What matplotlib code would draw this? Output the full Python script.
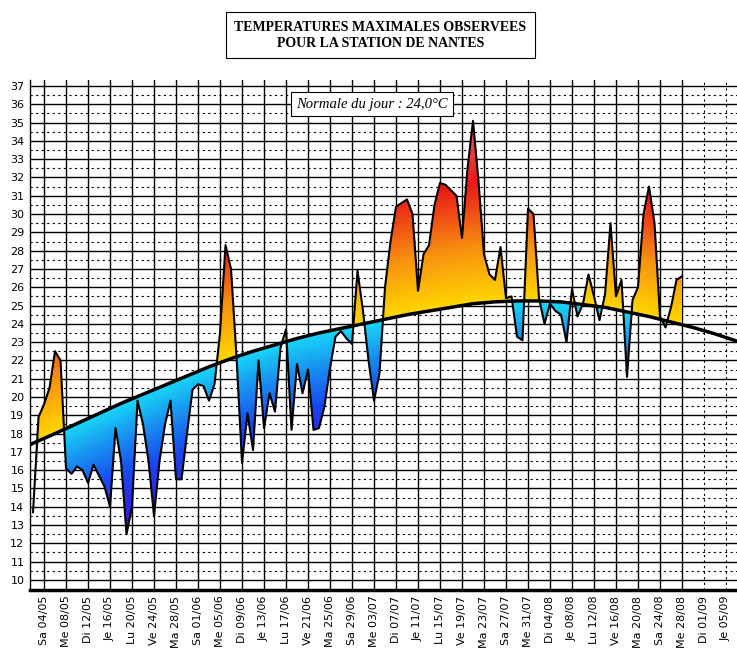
import numpy as np
import matplotlib
matplotlib.use("Agg")
import matplotlib.pyplot as plt
from matplotlib.path import Path
from matplotlib.colors import LinearSegmentedColormap, TwoSlopeNorm

# day index 0 = Sa 04/05
first_day = -2
temps = [13.7, 18.9, 19.6, 20.5, 22.5, 22.0, 16.1, 15.8, 16.2, 16.0, 15.3, 16.3, 15.7, 15.1,
         14.0, 18.3, 16.5, 12.5, 14.0, 19.8, 18.5, 16.5, 13.5, 16.5, 18.5, 19.8, 15.5, 15.5,
         18.0, 20.4, 20.7, 20.6, 19.8, 20.7, 23.5, 28.3, 27.0, 22.2, 16.4, 19.1, 17.1, 22.0,
         18.3, 20.2, 19.2, 22.7, 23.7, 18.2, 21.8, 20.2, 21.5, 18.2, 18.3, 19.5, 21.6, 23.3,
         23.6, 23.2, 22.9, 26.9, 24.7, 22.0, 19.8, 21.3, 26.0, 28.5, 30.4, 30.6, 30.8, 30.0,
         25.8, 27.8, 28.3, 30.5, 31.7, 31.6, 31.3, 31.0, 28.7, 32.5, 35.1, 31.8, 27.8, 26.7,
         26.4, 28.2, 25.4, 25.5, 23.3, 23.1, 30.3, 30.0, 25.4, 24.0, 25.1, 24.7, 24.5, 23.0,
         25.9, 24.4, 25.1, 26.7, 25.5, 24.2, 25.6, 29.5, 25.5, 26.4, 21.1, 25.3, 26.0, 30.0,
         31.5, 29.5, 24.4, 23.8, 24.9, 26.4, 26.6]
normal_days = [-2.55, 2, 6, 10, 14, 18, 22, 26, 30, 34, 38, 42, 46, 50, 54, 58, 62, 66, 70,
               74, 78, 82, 86, 90, 94, 98, 102, 106, 110, 114, 118, 122, 126]
normal_vals = [17.4, 18.0, 18.55, 19.1, 19.65, 20.15, 20.65, 21.15, 21.65, 22.1, 22.5, 22.85,
               23.2, 23.5, 23.75, 24.0, 24.25, 24.5, 24.7, 24.9, 25.1, 25.2, 25.25, 25.25,
               25.2, 25.05, 24.9, 24.65, 24.4, 24.1, 23.8, 23.45, 23.05]
tick_labels = ["Sa 04/05", "Me 08/05", "Di 12/05", "Je 16/05", "Lu 20/05", "Ve 24/05",
               "Ma 28/05", "Sa 01/06", "Me 05/06", "Di 09/06", "Je 13/06", "Lu 17/06",
               "Ve 21/06", "Ma 25/06", "Sa 29/06", "Me 03/07", "Di 07/07", "Je 11/07",
               "Lu 15/07", "Ve 19/07", "Ma 23/07", "Sa 27/07", "Me 31/07", "Di 04/08",
               "Je 08/08", "Lu 12/08", "Ve 16/08", "Ma 20/08", "Sa 24/08", "Me 28/08",
               "Di 01/09", "Je 05/09"]
title = "TEMPERATURES MAXIMALES OBSERVEES\nPOUR LA STATION DE NANTES"
note = "Normale du jour : 24,0°C"

x = np.arange(first_day, first_day + len(temps))
t = np.array(temps, float)
nx = np.interp(x, normal_days, normal_vals)

fig = plt.figure(figsize=(7.37, 6.63), dpi=100)
ax = fig.add_axes([30/737, (663-590)/663, 707/737, (590-79.6)/663])
xmin, xmax, ymin, ymax = -2.55, 126, 9.45, 37.35
ax.set_xlim(xmin, xmax)
ax.set_ylim(ymin, ymax)

# grid
ticks = np.arange(len(tick_labels)) * 4
for d in ticks:
    ax.axvline(d, color="black", lw=1.0 if d <= 116 else 0.8,
               ls="-" if d <= 116 else (0, (2, 3)), zorder=1)
for v in range(10, 38):
    ax.axhline(v, color="black", lw=1.0, zorder=1)
    ax.axhline(v + 0.5, color="black", lw=0.8, ls=(0, (2, 3)), zorder=1)

# gradient fill by deviation from normal
cmap = LinearSegmentedColormap.from_list("dev", [
    (0.0, "#6a08c8"), (0.12, "#3020e0"), (0.25, "#1848f0"), (0.38, "#1890f0"),
    (0.5, "#18d8f8"), (0.5, "#ffd800"), (0.64, "#f89010"), (0.8, "#e81818"),
    (1.0, "#f07878")])
norm = TwoSlopeNorm(vmin=-8, vcenter=0, vmax=11)
gx = np.linspace(xmin, xmax, 600)
gy = np.linspace(ymin, ymax, 500)
GX, GY = np.meshgrid(gx, gy)
dev = GY - np.interp(GX, normal_days, normal_vals)
im = ax.imshow(dev, extent=[xmin, xmax, ymin, ymax], origin="lower", aspect="auto",
               cmap=cmap, norm=norm, zorder=2, interpolation="bilinear")
verts = np.vstack([np.column_stack([x, t]), np.column_stack([x[::-1], nx[::-1]])])
im.set_clip_path(Path(verts, closed=True), transform=ax.transData)

ax.plot(x, t, color="black", lw=1.5, zorder=3)
ax.plot(normal_days, normal_vals, color="black", lw=2.5, zorder=4)

ax.set_yticks(range(10, 38))
ax.set_yticklabels([str(v) for v in range(10, 38)], fontsize=8)
ax.set_xticks(ticks)
ax.set_xticklabels(tick_labels, rotation=90, fontsize=8)
ax.tick_params(length=0, pad=4)
for s in ["top", "right"]:
    ax.spines[s].set_visible(False)
ax.spines["bottom"].set_linewidth(2.5)
ax.spines["left"].set_linewidth(1)

ax.text(0.376, 0.952, note, transform=ax.transAxes, fontsize=10.5, style="italic",
        family="Liberation Serif", va="center", ha="left", zorder=6,
        bbox=dict(boxstyle="square,pad=0.35", fc="white", ec="black", lw=0.8))
fig.text(0.516, 0.947, title, ha="center", va="center", fontsize=10, fontweight="bold",
         family="Liberation Serif", linespacing=1.3,
         bbox=dict(boxstyle="square,pad=0.6", fc="white", ec="black", lw=0.8))
fig.savefig("out.png", dpi=100)
